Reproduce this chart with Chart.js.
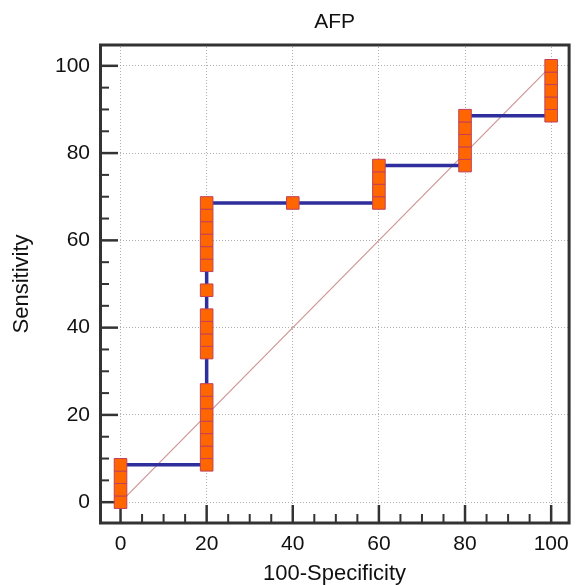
<!DOCTYPE html>
<html>
<head>
<meta charset="utf-8">
<title>AFP ROC</title>
<script src="https://cdn.jsdelivr.net/npm/chart.js@4.4.1/dist/chart.umd.min.js"></script>
<style>
  html, body { margin: 0; padding: 0; background: #fff; }
  #wrap { width: 580px; height: 585px; }
</style>
</head>
<body>
<div id="wrap"><canvas id="rocChart" width="580" height="585"></canvas></div>
<script>
// ================= DATA ==================

// ROC points: x = 100-Specificity (%), y = Sensitivity (%)
const falsePositive = [
  0, 0, 0, 0,
  20, 20, 20, 20, 20, 20, 20, 20, 20, 20, 20, 20, 20, 20, 20, 20, 20, 20,
  40,
  60, 60, 60, 60,
  80, 80, 80, 80, 80,
  100, 100, 100, 100, 100
];
const sensitivity = [
  0, 2.86, 5.71, 8.57,
  8.57, 11.43, 14.29, 17.14, 20, 22.86, 25.71, 34.29, 37.14, 40, 42.86, 48.57, 54.29, 57.14, 60, 62.86, 65.71, 68.57,
  68.57,
  68.57, 71.43, 74.29, 77.14,
  77.14, 80, 82.86, 85.71, 88.57,
  88.57, 91.43, 94.29, 97.14, 100
];

// chance diagonal
const diagonalX = [0, 100];
const diagonalY = [0, 100];

const tickValues = [0, 20, 40, 60, 80, 100];
const minorStep = 5;

const FONT = "'Liberation Sans', Arial, sans-serif";

// ================= PLUGINS ==================

// tick marks drawn inside the frame (left + bottom)
const inwardTicks = {
  id: "inwardTicks",
  beforeDatasetsDraw(chart) {
    const { ctx, chartArea: a, scales: { x, y } } = chart;
    ctx.save();
    ctx.strokeStyle = "#333";
    for (let v = 0; v <= 100; v += minorStep) {
      const major = tickValues.includes(v);
      const len = major ? 19 : 10;
      ctx.lineWidth = major ? 2.5 : 2;
      const py = y.getPixelForValue(v);
      ctx.beginPath();
      ctx.moveTo(a.left, py);
      ctx.lineTo(a.left + len, py);
      ctx.stroke();
      const px = x.getPixelForValue(v);
      ctx.beginPath();
      ctx.moveTo(px, a.bottom);
      ctx.lineTo(px, a.bottom - len);
      ctx.stroke();
    }
    ctx.restore();
  }
};

const frame = {
  id: "frame",
  afterDatasetsDraw(chart) {
    const { ctx, chartArea: a } = chart;
    ctx.save();
    ctx.strokeStyle = "#333";
    ctx.lineWidth = 3;
    ctx.strokeRect(a.left + 1.5, a.top + 1, a.width - 2.5, a.height - 2);
    ctx.restore();
  }
};

// ================= CHART ==================

const ctx = document.getElementById("rocChart").getContext("2d");

new Chart(ctx, {
  type: "scatter",
  data: {
    datasets: [
      {
        label: "AFP",
        data: falsePositive.map((fp, i) => ({ x: fp, y: sensitivity[i] })),
        showLine: true,
        borderColor: "#2e2e9c",
        borderWidth: 3.5,
        pointStyle: "rect",
        pointRadius: 8.9,
        pointBackgroundColor: "#ff6600",
        pointBorderColor: "#c0405a",
        pointBorderWidth: 1,
        order: 0
      },
      {
        label: "Reference",
        data: diagonalX.map((dx, i) => ({ x: dx, y: diagonalY[i] })),
        showLine: true,
        borderColor: "#cf9494",
        borderWidth: 1.2,
        pointRadius: 0,
        order: 1
      }
    ]
  },
  options: {
    responsive: false,
    animation: false,
    layout: { padding: { right: 3, left: 0, top: 0, bottom: 0 } },
    plugins: {
      legend: { display: false },
      tooltip: { enabled: false },
      title: {
        display: true,
        fullSize: false,
        text: "AFP",
        color: "#111",
        font: { family: FONT, size: 21, weight: "normal", lineHeight: 1.2 },
        padding: { top: 10, bottom: 8.8 }
      }
    },
    scales: {
      x: {
        type: "linear",
        min: -5,
        max: 104.4,
        afterBuildTicks: (scale) => { scale.ticks = tickValues.map(v => ({ value: v })); },
        afterFit: (scale) => { scale.height = 61; },
        grid: { color: "rgba(150,150,150,0.75)", lineWidth: 1, drawTicks: false },
        border: { display: false, dash: [1, 2] },
        ticks: {
          autoSkip: false,
          maxRotation: 0,
          padding: 8,
          color: "#111",
          font: { family: FONT, size: 21 }
        },
        title: {
          display: true,
          text: "100-Specificity",
          color: "#111",
          font: { family: FONT, size: 22, lineHeight: 1 },
          padding: { top: 0, bottom: 0 }
        }
      },
      y: {
        type: "linear",
        min: -5,
        max: 105,
        afterBuildTicks: (scale) => { scale.ticks = tickValues.map(v => ({ value: v })); },
        afterFit: (scale) => { scale.width = 99; },
        grid: { color: "rgba(150,150,150,0.75)", lineWidth: 1, drawTicks: false },
        border: { display: false, dash: [1, 2] },
        ticks: {
          autoSkip: false,
          padding: 9,
          color: "#111",
          font: { family: FONT, size: 21 }
        },
        title: {
          display: true,
          text: "Sensitivity",
          color: "#111",
          font: { family: FONT, size: 22, lineHeight: 1 },
          padding: { top: 11, bottom: 0 }
        }
      }
    }
  },
  plugins: [inwardTicks, frame]
});
</script>
</body>
</html>
